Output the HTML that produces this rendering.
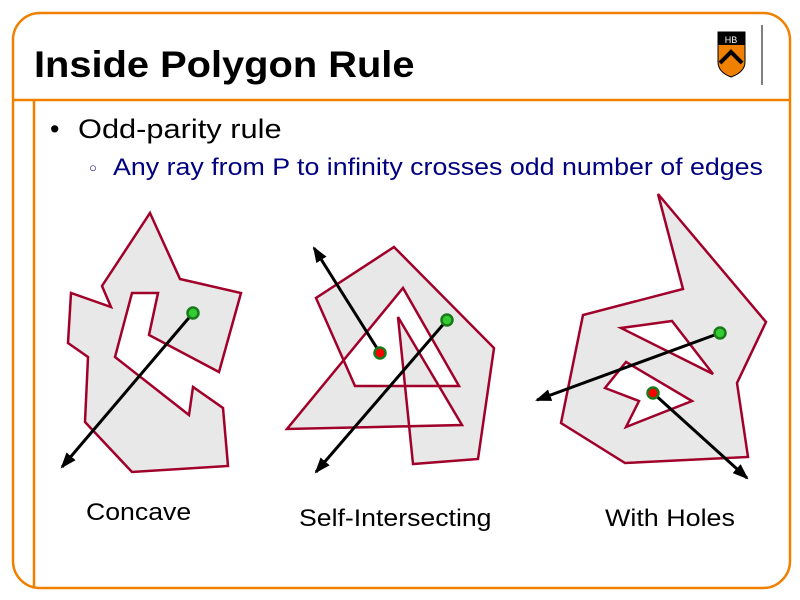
<!DOCTYPE html>
<html><head><meta charset="utf-8"><style>
html,body{margin:0;padding:0;background:#fff;}
body{width:800px;height:600px;position:relative;overflow:hidden;font-family:"Liberation Sans",sans-serif;}
.t{position:absolute;white-space:nowrap;transform-origin:0 0;}
</style></head><body>
<svg width="800" height="600" style="position:absolute;left:0;top:0">
<rect x="13" y="13" width="777" height="575" rx="27" ry="27" fill="none" stroke="#F08000" stroke-width="2.5"/>
<line x1="13" y1="100" x2="790" y2="100" stroke="#F08000" stroke-width="2.5"/>
<line x1="34" y1="100" x2="34" y2="588" stroke="#F08000" stroke-width="2.5"/>
<g>
<path d="M718,32 L745,32 L745,62 Q745,72 731,77 Q718,72 718,62 Z" fill="#F08000" stroke="#000" stroke-width="1"/>
<path d="M718,32 L745,32 L745,45 L718,45 Z" fill="#000"/>
<path d="M720,63 L731,52 L742,63" fill="none" stroke="#000" stroke-width="4"/>
<text x="731" y="43" font-size="9" fill="#fff" text-anchor="middle" font-family="Liberation Sans">HB</text>
<line x1="762" y1="25" x2="762" y2="85" stroke="#000" stroke-width="1"/>
</g>
<defs><marker id="ah" markerWidth="16" markerHeight="12" refX="14" refY="6" orient="auto" markerUnits="userSpaceOnUse"><path d="M0,0 L16,6 L0,12 Z" fill="#000"/></marker></defs>
<g fill="#E8E8E8" stroke="#A0002A" stroke-width="2.5" stroke-linejoin="miter">
<path fill-rule="evenodd" d="M150,213 L180,279 L241,293 L219,372 L149,335 L158,293 L132,293 L115,357 L189,415 L193,387 L223,408 L228,466 L132,472 L85,422 L88,357 L68,343 L71,293 L111,307 L102,286 Z"/>
<path fill-rule="evenodd" d="M394,247 L494,348 L478,459 L413,464 L398,317 L462,425 L287,429 L403,288 L459,386 L355,386 L316,298 Z"/>
<path fill-rule="evenodd" d="M658,194 L766,322 L737,383 L748,457 L625,463 L561,423 L583,315 L683,289 Z M621,328 L672,321 L713,374 Z M626,362 L692,401 L626,427 L639,401 L605,388 Z"/>
</g>
<g stroke="#000" stroke-width="3" marker-end="url(#ah)">
<line x1="193" y1="313" x2="62" y2="467"/>
<line x1="380" y1="353" x2="314" y2="248"/>
<line x1="447" y1="320" x2="316" y2="472"/>
<line x1="720" y1="333" x2="537" y2="400"/>
<line x1="653" y1="393" x2="747" y2="478"/>
</g>
<g stroke="#1A7A1A" stroke-width="2.5">
<circle cx="193" cy="313" r="5.5" fill="#33CC33"/>
<circle cx="447" cy="320" r="5.5" fill="#33CC33"/>
<circle cx="720" cy="333" r="5.5" fill="#33CC33"/>
<circle cx="380" cy="353" r="5.5" fill="#FF0000"/>
<circle cx="653" cy="393" r="5.5" fill="#FF0000"/>
</g>
</svg>
<div class="t" style="left:34px;top:44px;font-size:37px;font-weight:bold;transform:scaleX(1.076);">Inside Polygon Rule</div>
<div class="t" style="left:50px;top:114px;font-size:27px;">•</div>
<div class="t" style="left:78px;top:114px;font-size:27px;transform:scaleX(1.14);">Odd-parity rule</div>
<div class="t" style="left:89px;top:160px;font-size:13px;color:#000080;">○</div>
<div class="t" style="left:113px;top:154px;font-size:24.5px;color:#000080;transform:scaleX(1.093);">Any ray from P to infinity crosses odd number of edges</div>
<div class="t" style="left:86px;top:499px;font-size:24px;transform:scaleX(1.11);">Concave</div>
<div class="t" style="left:299px;top:505px;font-size:24px;transform:scaleX(1.11);">Self-Intersecting</div>
<div class="t" style="left:605px;top:505px;font-size:24px;transform:scaleX(1.12);">With Holes</div>
</body></html>
